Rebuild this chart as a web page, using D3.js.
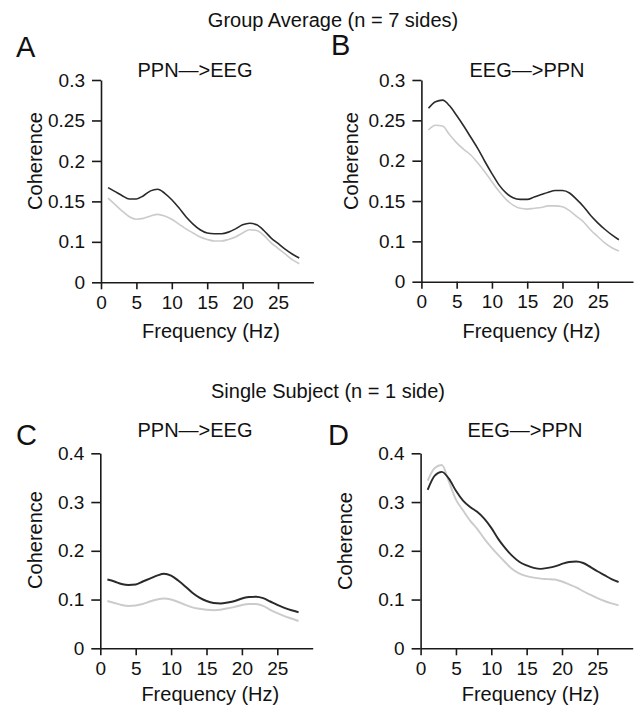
<!DOCTYPE html>
<html>
<head>
<meta charset="utf-8">
<script src="https://cdn.jsdelivr.net/npm/d3@7/dist/d3.min.js"></script>
<style>
body { margin: 0; background: #fff; }
text { font-family: "Liberation Sans", Arial, Helvetica, sans-serif; fill: #111; }
</style>
</head>
<body>
<svg id="svg" width="642" height="713"></svg>
<script>
// frequencies (Hz) shared by every trace
const freqs = [1, 2, 3, 4, 5, 6, 7, 8, 9, 10, 11, 12, 13, 14, 15, 16, 17, 18, 19, 20, 21, 22, 23, 24, 25, 26, 27, 28];

// A: group average PPN->EEG
const aDark = [0.167, 0.162, 0.157, 0.153, 0.153, 0.157, 0.163, 0.165, 0.160, 0.152, 0.142, 0.131, 0.122, 0.115, 0.111, 0.110, 0.110, 0.112, 0.116, 0.121, 0.123, 0.121, 0.114, 0.105, 0.098, 0.091, 0.085, 0.080];
const aLight = [0.154, 0.146, 0.138, 0.131, 0.128, 0.129, 0.132, 0.134, 0.132, 0.128, 0.122, 0.116, 0.111, 0.106, 0.103, 0.101, 0.101, 0.103, 0.106, 0.111, 0.115, 0.114, 0.108, 0.099, 0.092, 0.085, 0.078, 0.073];

// B: group average EEG->PPN
const bDark = [0.265, 0.273, 0.275, 0.268, 0.256, 0.243, 0.229, 0.215, 0.199, 0.184, 0.170, 0.160, 0.154, 0.152, 0.152, 0.155, 0.158, 0.161, 0.163, 0.163, 0.160, 0.152, 0.143, 0.132, 0.123, 0.115, 0.108, 0.102];
const bLight = [0.238, 0.244, 0.243, 0.232, 0.222, 0.214, 0.207, 0.197, 0.186, 0.174, 0.162, 0.152, 0.145, 0.141, 0.140, 0.141, 0.142, 0.144, 0.144, 0.143, 0.138, 0.131, 0.124, 0.114, 0.106, 0.098, 0.092, 0.088];

// C: single subject PPN->EEG
const cDark = [0.141, 0.137, 0.132, 0.130, 0.131, 0.137, 0.143, 0.149, 0.153, 0.149, 0.139, 0.127, 0.114, 0.104, 0.097, 0.093, 0.092, 0.094, 0.097, 0.102, 0.105, 0.106, 0.103, 0.096, 0.089, 0.083, 0.078, 0.074];
const cLight = [0.097, 0.093, 0.089, 0.087, 0.088, 0.091, 0.096, 0.100, 0.102, 0.100, 0.095, 0.089, 0.084, 0.081, 0.079, 0.078, 0.079, 0.082, 0.085, 0.089, 0.091, 0.091, 0.087, 0.079, 0.072, 0.066, 0.061, 0.056];

// D: single subject EEG->PPN
const dDark = [0.325, 0.354, 0.362, 0.348, 0.323, 0.303, 0.290, 0.280, 0.266, 0.247, 0.224, 0.205, 0.189, 0.177, 0.170, 0.165, 0.163, 0.165, 0.168, 0.173, 0.177, 0.178, 0.175, 0.167, 0.158, 0.150, 0.142, 0.136];
const dLight = [0.344, 0.370, 0.376, 0.342, 0.305, 0.283, 0.262, 0.245, 0.225, 0.207, 0.191, 0.176, 0.162, 0.153, 0.148, 0.145, 0.143, 0.142, 0.141, 0.137, 0.131, 0.125, 0.117, 0.110, 0.103, 0.097, 0.092, 0.088];

// tick values and labels
const xTicks = [0, 5, 10, 15, 20, 25];
const groupTicks = [0.05, 0.1, 0.15, 0.2, 0.25, 0.3];
const groupTickLabels = ['0', '0.1', '0.15', '0.2', '0.25', '0.3'];
const singleTicks = [0, 0.1, 0.2, 0.3, 0.4];
const singleTickLabels = ['0', '0.1', '0.2', '0.3', '0.4'];

const svg = d3.select('#svg');

svg.append('text').attr('x', 333).attr('y', 27).attr('text-anchor', 'middle').
style('font-size', '20px').text('Group Average (n = 7 sides)');
svg.append('text').attr('x', 328).attr('y', 398).attr('text-anchor', 'middle').
style('font-size', '20px').text('Single Subject (n = 1 side)');

const panels = [
  { letter: 'A', lx: 16, ly: 57, title: 'PPN\u2014>EEG', tx: 195, ty: 77, xr: [101, 313.4], yr: [282.3, 80],
    yd: [0.05, 0.3], ticks: groupTicks, labels: groupTickLabels, dark: aDark, light: aLight, cohX: 41.5, cohY: 161, freqY: 338, w: 1.6 },
  { letter: 'B', lx: 331, ly: 55, title: 'EEG\u2014>PPN', tx: 527, ty: 77, xr: [421.4, 633], yr: [281.7, 80],
    yd: [0.05, 0.3], ticks: groupTicks, labels: groupTickLabels, dark: bDark, light: bLight, cohX: 358, cohY: 161, freqY: 338, w: 1.6 },
  { letter: 'C', lx: 16, ly: 445, title: 'PPN\u2014>EEG', tx: 195, ty: 437, xr: [100.3, 312.7], yr: [648.3, 453.3],
    yd: [0, 0.4], ticks: singleTicks, labels: singleTickLabels, dark: cDark, light: cLight, cohX: 41.5, cohY: 540, freqY: 701, w: 2 },
  { letter: 'D', lx: 328, ly: 445, title: 'EEG\u2014>PPN', tx: 525, ty: 437, xr: [420.6, 632.7], yr: [648.3, 453.3],
    yd: [0, 0.4], ticks: singleTicks, labels: singleTickLabels, dark: dDark, light: dLight, cohX: 352, cohY: 541, freqY: 701, w: 1.9 }
];

panels.forEach(p => {
  const x = d3.scaleLinear().domain([0, 30]).range(p.xr);
  const y = d3.scaleLinear().domain(p.yd).range(p.yr);

  svg.append('text').attr('x', p.lx).attr('y', p.ly).style('font-size', '29px').text(p.letter);
  svg.append('text').attr('x', p.tx).attr('y', p.ty).attr('text-anchor', 'middle').
  style('font-size', '20px').text(p.title);

  const gx = svg.append('g').
  attr('transform', `translate(0,${p.yr[0]})`).
  call(d3.axisBottom(x).tickValues(xTicks).tickSize(7).tickSizeOuter(0).tickPadding(6));

  const gy = svg.append('g').
  attr('transform', `translate(${p.xr[0]},0)`).
  call(d3.axisLeft(y).tickValues(p.ticks).tickFormat((d, i) => p.labels[i]).
  tickSize(9).tickSizeOuter(0).tickPadding(7));

  [gx, gy].forEach(g => {
    g.selectAll('path, line').attr('stroke', '#1a1a1a').attr('stroke-width', 1.6);
    g.selectAll('text').attr('fill', '#111').style('font-size', '19px').
    style('font-family', '"Liberation Sans", Arial, Helvetica, sans-serif');
  });

  svg.append('text').attr('x', p.xr[0] + 110).attr('y', p.freqY).attr('text-anchor', 'middle').
  style('font-size', '20px').text('Frequency (Hz)');
  svg.append('text').attr('transform', `translate(${p.cohX},${p.cohY}) rotate(-90)`).
  attr('text-anchor', 'middle').style('font-size', '20px').text('Coherence');

  const line = d3.line().x((d, i) => x(freqs[i])).y(d => y(d)).curve(d3.curveMonotoneX);

  svg.append('path').datum(p.light).attr('d', line).
  attr('fill', 'none').attr('stroke', '#cbcbcb').attr('stroke-width', p.w);
  svg.append('path').datum(p.dark).attr('d', line).
  attr('fill', 'none').attr('stroke', '#2a2a2a').attr('stroke-width', p.w);
});
</script>
</body>
</html>
